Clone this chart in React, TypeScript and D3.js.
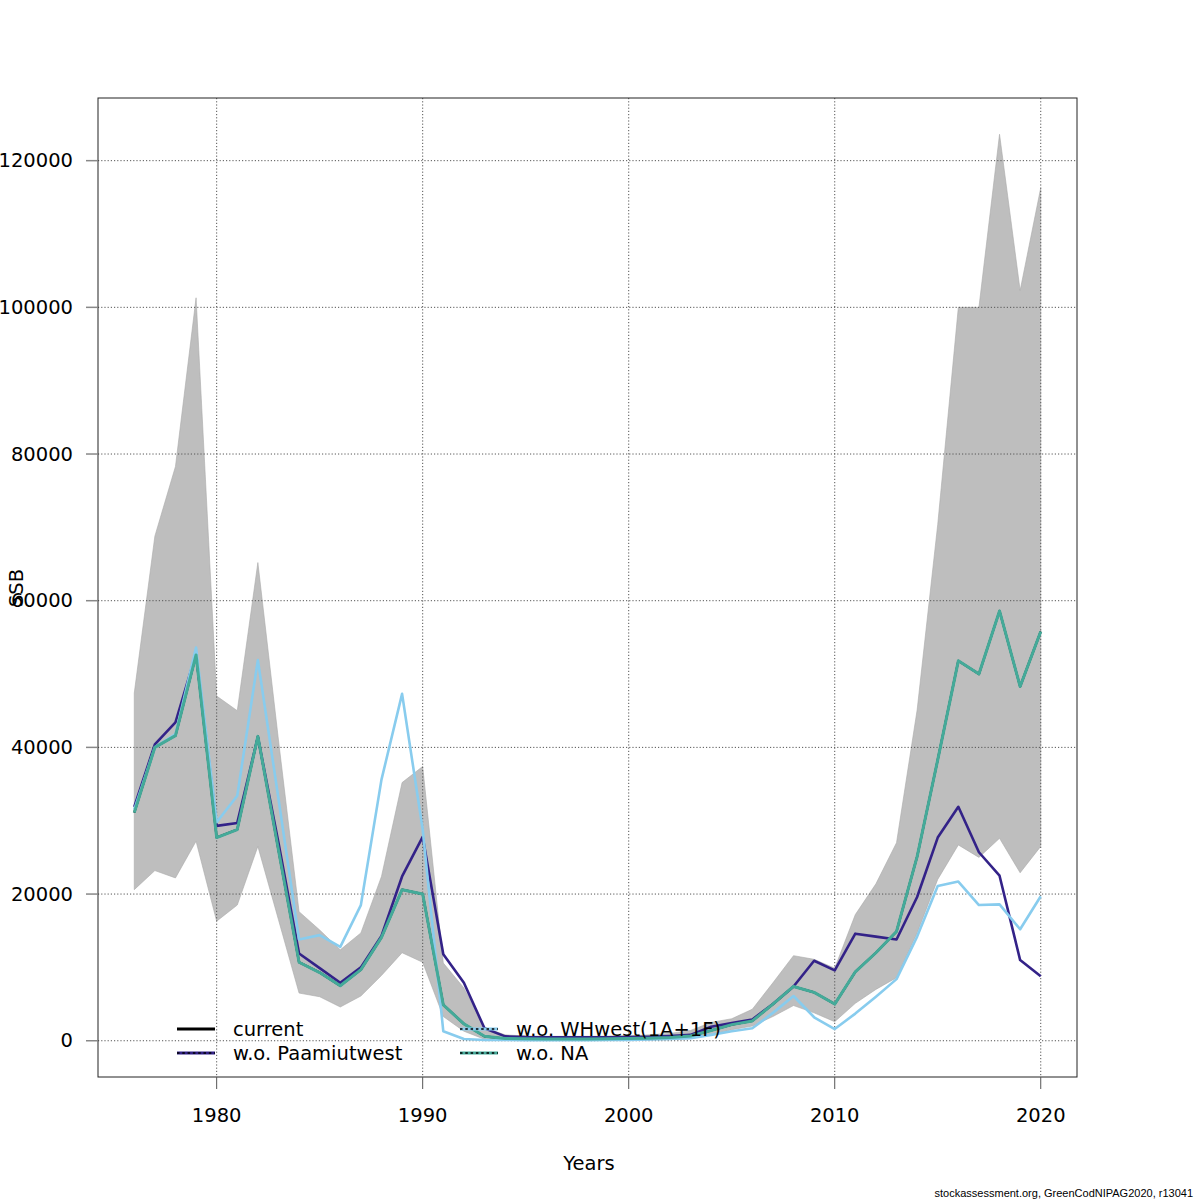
import React from "react";
import * as d3 from "d3";

const years = d3.range(1976, 2021);

const current = [31100, 40000, 41600, 52600, 27700, 28800, 41500, 26000, 10700, 9300, 7500, 9700, 14100, 20600, 20000, 4900, 2300, 600, 300, 260, 250, 250, 250, 260, 290, 350, 450, 650, 1400, 2200, 2700, 5000, 7400, 6600, 5000, 9400, 12000, 14900, 25100, 38300, 51800, 50000, 58600, 48300, 55800];

const woPaamiut = [31900, 40400, 43400, 52800, 29300, 29700, 41400, 27000, 11900, 9900, 7900, 10000, 14300, 22400, 27800, 11800, 7900, 1700, 590, 500, 480, 470, 470, 480, 500, 550, 650, 800, 1900, 2400, 2900, 5000, 7400, 10900, 9600, 14600, 14200, 13800, 19600, 27700, 31900, 25700, 22500, 11000, 8800];

const woWHwest = [31500, 40000, 41800, 53600, 29800, 33400, 51900, 33000, 13800, 14400, 12800, 18500, 35600, 47300, 28800, 1300, 230, 100, 100, 90, 90, 90, 90, 100, 120, 160, 230, 350, 800, 1300, 1700, 3800, 6100, 3200, 1600, 3700, 6000, 8400, 14200, 21100, 21700, 18500, 18600, 15200, 19700];

const woNA = [31100, 40000, 41600, 52600, 27700, 28800, 41500, 26000, 10700, 9300, 7500, 9700, 14100, 20600, 20000, 4900, 2300, 600, 300, 260, 250, 250, 250, 260, 290, 350, 450, 650, 1400, 2200, 2700, 5000, 7400, 6600, 5000, 9400, 12000, 14900, 25100, 38300, 51800, 50000, 58600, 48300, 55800];

const upperCI = [47400, 68800, 78300, 101300, 47000, 45000, 65200, 41000, 17600, 15100, 12400, 14700, 22400, 35200, 37400, 10600, 7200, 1800, 800, 650, 600, 600, 600, 620, 680, 800, 1000, 1400, 2500, 3000, 4300, 7900, 11600, 11100, 9900, 17200, 21400, 27000, 45100, 70400, 100000, 100000, 123600, 102300, 116300];

const lowerCI = [20600, 23200, 22200, 27200, 16300, 18500, 26500, 16500, 6500, 6000, 4600, 6100, 8900, 12000, 10700, 3300, 1300, 200, 100, 80, 80, 80, 80, 90, 100, 120, 160, 300, 800, 1500, 2000, 3300, 4800, 3800, 2600, 5100, 7000, 8600, 14700, 22000, 26700, 25000, 27600, 22900, 26500];

const xTicks = [1980, 1990, 2000, 2010, 2020];
const yTicks = [0, 20000, 40000, 60000, 80000, 100000, 120000];

const seriesNames = ["current", "w.o. Paamiutwest", "w.o. WHwest(1A+1F)", "w.o. NA"];
const seriesColors = ["#000000", "#332288", "#88CCEE", "#44AA99"];

export default function App() {
  const L = 98, R = 1077, T = 98, B = 1077;
  const font = "'DejaVu Sans', sans-serif";
  const fs = 19.5;
  const ext = (a: number, b: number): [number, number] => {
    const d = (b - a) * 0.04;
    return [a - d, b + d];
  };
  const x = d3.scaleLinear().domain(ext(years[0], years[years.length - 1])).range([L, R]);
  const yMax = d3.max(upperCI) as number;
  const y = d3.scaleLinear().domain(ext(0, yMax)).range([B, T]);

  const area = d3
    .area<number>()
    .x((_, i) => x(years[i]))
    .y0((_, i) => y(lowerCI[i]))
    .y1((d) => y(d));
  const line = d3
    .line<number>()
    .x((_, i) => x(years[i]))
    .y((d) => y(d));

  const series = [current, woPaamiut, woWHwest, woNA];
  const widths = [2.2, 2.6, 2.6, 3];

  const legendPos = [
    { lx: 177, ty: 1029 },
    { lx: 177, ty: 1053 },
    { lx: 460, ty: 1029 },
    { lx: 460, ty: 1053 },
  ];

  return (
    <svg
      width={1200}
      height={1200}
      style={{ position: "absolute", left: 0, top: 0, display: "block", background: "#fff" }}
    >
      <rect x={0} y={0} width={1200} height={1200} fill="#fff" />
      <path d={area(upperCI) || ""} fill="#bebebe" stroke="#a9a9a9" strokeWidth={0.6} />
      {xTicks.map((t) => (
        <line key={"gx" + t} x1={x(t)} x2={x(t)} y1={T} y2={B} stroke="#555" strokeWidth={1} strokeDasharray="1.2,2" />
      ))}
      {yTicks.map((t) => (
        <line key={"gy" + t} x1={L} x2={R} y1={y(t)} y2={y(t)} stroke="#555" strokeWidth={1} strokeDasharray="1.2,2" />
      ))}
      {series.map((s, i) => (
        <path key={"s" + i} d={line(s) || ""} fill="none" stroke={seriesColors[i]} strokeWidth={widths[i]} strokeLinejoin="round" />
      ))}
      <rect x={L} y={T} width={R - L} height={B - T} fill="none" stroke="#222" strokeWidth={1} />
      {xTicks.map((t) => (
        <g key={"xt" + t}>
          <line x1={x(t)} x2={x(t)} y1={B} y2={B + 12} stroke="#555" strokeWidth={1} />
          <text x={x(t)} y={1115} textAnchor="middle" dominantBaseline="central" fontFamily={font} fontSize={fs} fill="#000">
            {t}
          </text>
        </g>
      ))}
      {yTicks.map((t) => (
        <g key={"yt" + t}>
          <line x1={L - 12} x2={L} y1={y(t)} y2={y(t)} stroke="#888" strokeWidth={1.5} />
          <text x={73} y={y(t)} textAnchor="end" dominantBaseline="central" fontFamily={font} fontSize={fs} fill="#000">
            {t}
          </text>
        </g>
      ))}
      <text x={589} y={1163} textAnchor="middle" dominantBaseline="central" fontFamily={font} fontSize={fs} fill="#000">
        Years
      </text>
      <text transform="translate(23,588) rotate(-90)" textAnchor="middle" fontFamily={font} fontSize={fs} fill="#000">
        SSB
      </text>
      {seriesNames.map((n, i) => {
        const p = legendPos[i];
        return (
          <g key={"lg" + i}>
            <line x1={p.lx} x2={p.lx + 38} y1={p.ty} y2={p.ty} stroke={seriesColors[i]} strokeWidth={3} />
            {i > 0 && (
              <line x1={p.lx} x2={p.lx + 38} y1={p.ty} y2={p.ty} stroke="#000" strokeWidth={1.5} strokeDasharray="2.5,2.8" />
            )}
            <text x={p.lx + 56} y={p.ty} dominantBaseline="central" fontFamily={font} fontSize={fs} fill="#000">
              {n}
            </text>
          </g>
        );
      })}
      <text x={1193} y={1197} textAnchor="end" fontFamily="'Liberation Sans', Arial, sans-serif" fontSize={11} fill="#000">
        stockassessment.org, GreenCodNIPAG2020, r13041
      </text>
    </svg>
  );
}
